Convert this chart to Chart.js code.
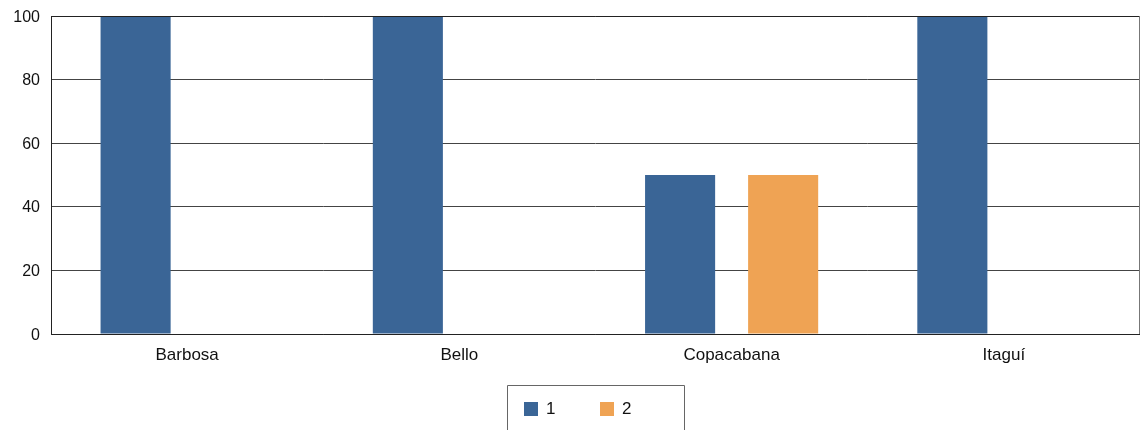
<!DOCTYPE html>
<html>
<head>
<meta charset="utf-8">
<script src="https://cdn.jsdelivr.net/npm/chart.js@4/dist/chart.umd.min.js"></script>
<style>
  html, body { margin: 0; padding: 0; background: #fff; }
  #wrap { width: 1143px; height: 430px; position: relative; }
</style>
</head>
<body>
<div id="wrap"><canvas id="c" width="1143" height="430"></canvas></div>
<script>
// Municipalities and the two series
const categories = ['Barbosa', 'Bello', 'Copacabana', 'Itaguí'];
const series1 = [100, 100, 50, 100];
const series2 = [0, 0, 50, 0];
const seriesNames = ['1', '2'];
const yTicks = [0, 20, 40, 60, 80, 100];

const FONT = '"Liberation Sans", Arial, sans-serif';

// Frame around the plot area, value labels on the left and a boxed legend under the axis
const framePlugin = {
  id: 'frame',
  afterDraw(chart) {
    const { ctx, chartArea: a } = chart;
    const yScale = chart.scales.y;
    ctx.save();
    ctx.lineWidth = 1;
    ctx.strokeStyle = '#222';
    ctx.beginPath();
    ctx.moveTo(a.left + 0.5, a.top);
    ctx.lineTo(a.left + 0.5, a.bottom + 0.5);
    ctx.lineTo(a.right, a.bottom + 0.5);
    ctx.moveTo(a.left, a.top + 0.5);
    ctx.lineTo(a.right, a.top + 0.5);
    ctx.stroke();
    ctx.strokeStyle = '#777';
    ctx.beginPath();
    ctx.moveTo(a.right - 0.5, a.top);
    ctx.lineTo(a.right - 0.5, a.bottom);
    ctx.stroke();

    // y value labels
    ctx.font = '16px ' + FONT;
    ctx.fillStyle = '#111';
    ctx.textAlign = 'right';
    ctx.textBaseline = 'alphabetic';
    yScale.ticks.forEach(t => {
      ctx.fillText(String(t.value), a.left - 11, yScale.getPixelForValue(t.value) + 5.5);
    });

    // legend
    const bx = 507.5, by = 385.5, bw = 177;
    ctx.strokeStyle = '#666';
    ctx.beginPath();
    ctx.moveTo(bx, 440);
    ctx.lineTo(bx, by);
    ctx.lineTo(bx + bw, by);
    ctx.lineTo(bx + bw, 440);
    ctx.stroke();
    ctx.font = '17px ' + FONT;
    ctx.textBaseline = 'middle';
    ctx.textAlign = 'left';
    chart.data.datasets.forEach((ds, i) => {
      const x = 524 + i * 76;
      ctx.fillStyle = ds.backgroundColor;
      ctx.fillRect(x, 402, 14, 14);
      ctx.fillStyle = '#111';
      ctx.fillText(ds.label, x + 22, 409);
    });
    ctx.restore();
  }
};

new Chart(document.getElementById('c'), {
  type: 'bar',
  data: {
    labels: categories,
    datasets: [
      { label: seriesNames[0], data: series1, backgroundColor: '#3A6596' },
      { label: seriesNames[1], data: series2, backgroundColor: '#EFA354' }
    ]
  },
  options: {
    responsive: false,
    animation: false,
    devicePixelRatio: 1,
    layout: { padding: { top: 16, right: 3, left: 0, bottom: 0 } },
    datasets: { bar: { categoryPercentage: 0.757, barPercentage: 0.68 } },
    plugins: { legend: { display: false }, tooltip: { enabled: false } },
    scales: {
      x: {
        grid: { display: false, drawTicks: false },
        border: { display: false },
        ticks: { color: '#111', font: { family: FONT, size: 17 }, padding: 11, maxRotation: 0 },
        afterFit(s) { s.height = 96; }
      },
      y: {
        min: 0, max: 100,
        afterBuildTicks(s) { s.ticks = yTicks.map(v => ({ value: v })); },
        grid: { color: '#444', lineWidth: 1, drawTicks: false },
        border: { display: false },
        ticks: { display: false },
        afterFit(s) { s.width = 51; }
      }
    }
  },
  plugins: [framePlugin]
});
</script>
</body>
</html>
